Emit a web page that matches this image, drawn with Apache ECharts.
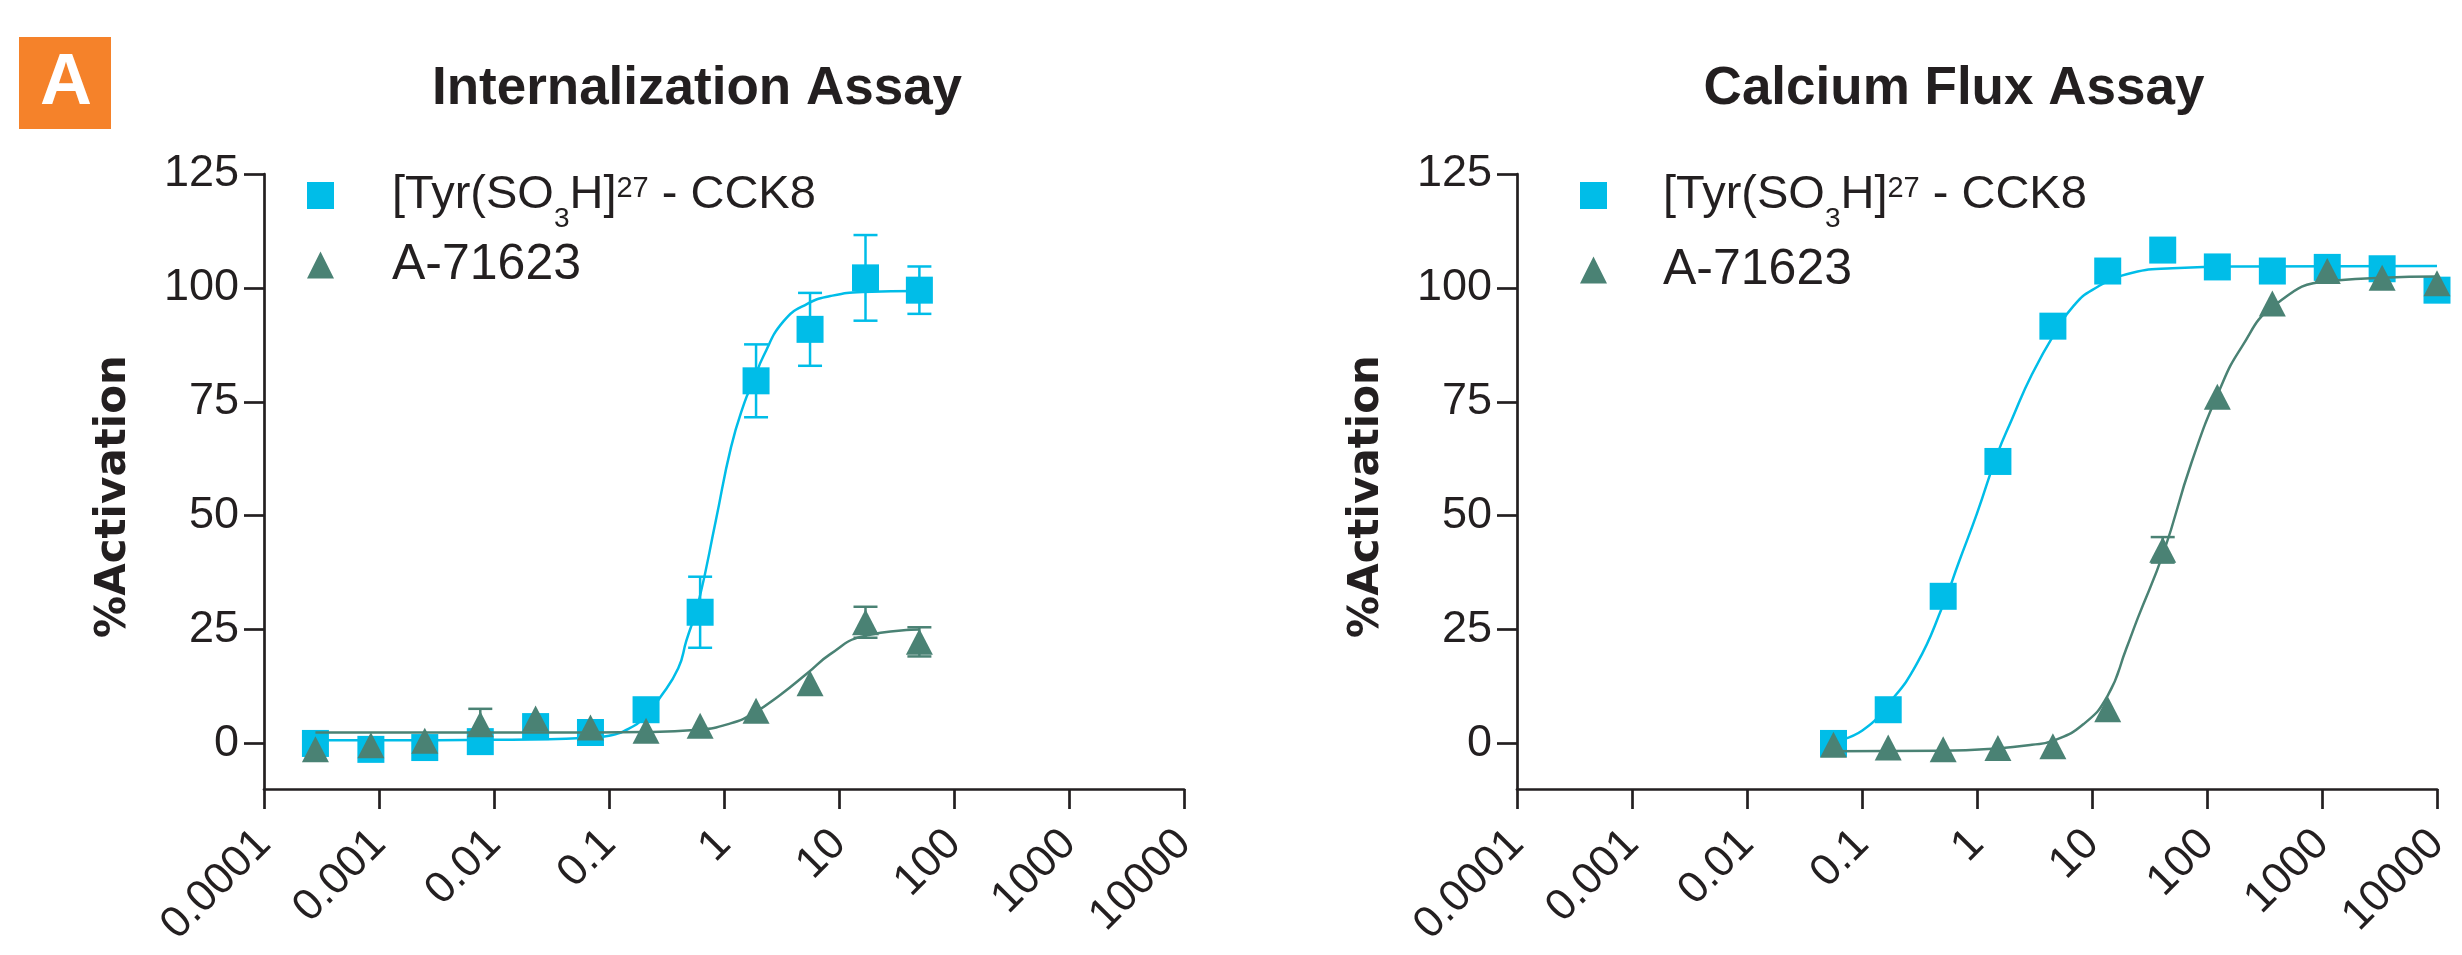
<!DOCTYPE html>
<html>
<head>
<meta charset="utf-8">
<title>Internalization / Calcium Flux</title>
<script src="https://cdn.jsdelivr.net/npm/echarts@6/dist/echarts.min.js"></script>
<style>
html,body{margin:0;padding:0;background:#fff;}
#chart{width:2462px;height:955px;}
</style>
</head>
<body>
<div id="chart"></div>
<script>
// ---- data ----
var cckName = '[Tyr(SO3H]27 - CCK8';
var aName = 'A-71623';

// internalization assay
var intDose = [0.00028, 0.00085, 0.0025, 0.0076, 0.023, 0.069, 0.21, 0.62, 1.9, 5.6, 17, 50];
var intCck = [0.0, -1.3, -0.9, 0.4, 3.7, 2.4, 7.4, 28.8, 79.6, 90.9, 102.2, 99.5];
var intCckSd = [0, 0, 0, 0, 0, 0, 0, 7.8, 8.0, 8.0, 9.4, 5.2];
var intA = [-1.3, -0.4, 0.6, 4.2, 5.5, 3.5, 2.8, 3.9, 7.2, 13.2, 26.6, 22.3];
var intASd = [0, 0, 0, 3.4, 0, 0, 0, 0, 0, 0, 3.4, 3.2];
var intCckFit = [[0.00028, 0.7], [0.001, 0.7], [0.01, 0.8], [0.03, 0.9], [0.07, 1.3], [0.1, 1.7],
    [0.15, 3.3], [0.2, 5.6], [0.28, 10.2], [0.4, 16.5], [0.47, 22.5], [0.6, 31], [0.85, 49],
    [1.15, 65], [1.5, 74.7], [1.8, 79.5], [2.2, 85], [3.3, 92.7], [5.3, 96.5], [8.4, 98.2],
    [16, 99.1], [50, 99.3]];
var intAFit = [[0.00028, 2.4], [0.03, 2.4], [0.2, 2.5], [0.6, 3.0], [1.14, 4.4], [1.8, 6.6],
    [3.1, 10.7], [5.3, 15.4], [8.4, 19.6], [16, 23.5], [50, 25.0]];

// calcium flux assay
var caDose = [0.0565, 0.169, 0.508, 1.52, 4.57, 13.7, 41.2, 123, 370, 1111, 3333, 10000];
var caCck = [0.0, 7.4, 32.3, 61.9, 91.6, 103.7, 108.3, 104.6, 103.7, 104.5, 104.2, 99.5];
var caCckSd = [0, 0, 0, 0, 0, 0, 0, 0, 0, 0, 0, 0];
var caA = [-0.3, -0.9, -1.3, -1.0, -0.6, 7.5, 42.5, 76.1, 96.6, 103.7, 102.2, 101.0];
var caASd = [0, 0, 0, 0, 0, 0, 2.8, 0, 0, 0, 0, 0];
var caCckFit = [[0.0565, 0.4], [0.1, 2.8], [0.17, 8.7], [0.3, 17.5], [0.5, 30], [0.7, 40],
    [1, 50.5], [1.5, 63.5], [2, 71], [3, 81], [5, 91], [7, 96.2], [10, 99.5], [20, 103],
    [50, 104.3], [200, 104.7], [10000, 104.8]];
var caAFit = [[0.0565, -1.7], [0.5, -1.6], [1.5, -1.1], [3, -0.3], [4.6, 0.6], [8.4, 4.2],
    [13.7, 10.5], [20, 21], [25, 27.5], [42, 42], [73, 61.5], [127, 77.3], [200, 87],
    [380, 96], [1150, 101.5], [10000, 102.5]];

var xTickValues = [0.0001, 0.001, 0.01, 0.1, 1, 10, 100, 1000, 10000];
var xTickLabels = ['0.0001', '0.001', '0.01', '0.1', '1', '10', '100', '1000', '10000'];
var yTickValues = [0, 25, 50, 75, 100, 125];

// ---- styling ----
var ink = '#231F20';
var blue = '#00BDE8';
var green = '#4A8274';
var font = 'Liberation Sans';

function xLabel(v) {
    for (var i = 0; i < xTickValues.length; i++) {
        if (Math.abs(Math.log10(v) - Math.log10(xTickValues[i])) < 0.01) return xTickLabels[i];
    }
    return '';
}

function legendText(name) {
    if (name === cckName) return '{gap|}{m|[Tyr(SO}{sub|3}{m|H]}{sup|27}{m| - CCK8}';
    return '{gap|}{n|A-71623}';
}

function legend(name, icon, left, top, gap) {
    return {
        orient: 'vertical', left: left, top: top, padding: 0,
        itemWidth: 27, itemHeight: 27, selectedMode: false,
        data: [{name: name, icon: icon}],
        formatter: legendText,
        textStyle: {
            color: ink, fontFamily: font,
            rich: {
                gap: {width: gap},
                m: {fontSize: 47, lineHeight: 50, fontFamily: font, color: ink},
                n: {fontSize: 50, lineHeight: 50, fontFamily: font, color: ink},
                sup: {fontSize: 29, lineHeight: 30, padding: [0, 0, 13, 0], fontFamily: font, color: ink},
                sub: {fontSize: 28, lineHeight: 28, padding: [47, 0, 0, 0], fontFamily: font, color: ink}
            }
        }
    };
}

function xAxis(idx) {
    return {
        type: 'log', gridIndex: idx, logBase: 10, min: 0.0001, max: 10000,
        axisLine: {onZero: false, lineStyle: {color: ink, width: 2.7}},
        axisTick: {length: 20, lineStyle: {color: ink, width: 2.7}},
        axisLabel: {rotate: 45, margin: 48, fontSize: 44, fontFamily: font, color: ink, formatter: xLabel},
        splitLine: {show: false}
    };
}

function yAxis(idx) {
    return {
        type: 'value', gridIndex: idx, min: -10, max: 125,
        axisLine: {show: true, onZero: false, lineStyle: {color: ink, width: 2.7}},
        axisTick: {show: true, length: 20, customValues: yTickValues, lineStyle: {color: ink, width: 2.7}},
        axisLabel: {customValues: yTickValues, margin: 25, fontSize: 45, fontFamily: font, color: ink},
        splitLine: {show: false},
        name: '%Activation', nameLocation: 'middle', nameRotate: 90, nameGap: 129,
        nameTextStyle: {fontFamily: 'DejaVu Sans', fontWeight: 'bold', fontSize: 42, color: ink, padding: [0, 30, 0, 0]}
    };
}

function errorBars(idx, dose, vals, sd, color) {
    var rows = [];
    dose.forEach(function (d, i) { if (sd[i] > 0) rows.push([d, vals[i], sd[i]]); });
    return {
        type: 'custom', xAxisIndex: idx, yAxisIndex: idx, silent: true, z: 2,
        data: rows,
        encode: {x: 0, y: 1},
        renderItem: function (params, api) {
            var x = api.value(0), y = api.value(1), e = api.value(2);
            var top = api.coord([x, y + e]);
            var bot = api.coord([x, y - e]);
            var w = 12;
            var st = {stroke: color, lineWidth: 2.5};
            return {
                type: 'group',
                children: [
                    {type: 'line', shape: {x1: top[0], y1: top[1], x2: bot[0], y2: bot[1]}, style: st},
                    {type: 'line', shape: {x1: top[0] - w, y1: top[1], x2: top[0] + w, y2: top[1]}, style: st},
                    {type: 'line', shape: {x1: bot[0] - w, y1: bot[1], x2: bot[0] + w, y2: bot[1]}, style: st}
                ]
            };
        }
    };
}

function fit(idx, pts, color, z) {
    return {
        type: 'line', xAxisIndex: idx, yAxisIndex: idx, data: pts,
        smooth: 0.5, symbol: 'none', silent: true, z: z,
        lineStyle: {color: color, width: 2.5}
    };
}

function points(idx, name, dose, vals, symbol, size, color, z) {
    return {
        type: 'scatter', name: name, xAxisIndex: idx, yAxisIndex: idx,
        data: dose.map(function (d, i) { return [d, vals[i]]; }),
        symbol: symbol, symbolSize: size, z: z,
        itemStyle: {color: color, opacity: 1}
    };
}

var chart = echarts.init(document.getElementById('chart'), null, {renderer: 'canvas'});
chart.setOption({
    animation: false,
    backgroundColor: '#fff',
    title: [
        {text: 'Internalization Assay', left: 697, top: 63, textAlign: 'center', padding: 0,
            textStyle: {fontFamily: font, fontWeight: 'bold', fontSize: 53, color: ink}},
        {text: 'Calcium Flux Assay', left: 1954, top: 63, textAlign: 'center', padding: 0,
            textStyle: {fontFamily: font, fontWeight: 'bold', fontSize: 53, color: ink}}
    ],
    graphic: [
        {type: 'rect', shape: {x: 19, y: 37, width: 92, height: 92}, style: {fill: '#F5822A'}},
        {type: 'text', x: 66, y: 84, style: {text: 'A', fill: '#fff', font: 'bold 72px "Liberation Sans"', align: 'center', verticalAlign: 'middle'}}
    ],
    legend: [
        legend(cckName, 'rect', 307, 158, 53),
        legend(aName, 'triangle', 307, 240, 53),
        legend(cckName, 'rect', 1580, 158, 51),
        legend(aName, 'triangle', 1580, 245, 51)
    ],
    grid: [
        {left: 264, top: 174, width: 920, height: 615, outerBoundsMode: 'none'},
        {left: 1517, top: 174, width: 920, height: 615, outerBoundsMode: 'none'}
    ],
    xAxis: [xAxis(0), xAxis(1)],
    yAxis: [yAxis(0), yAxis(1)],
    series: [
        errorBars(0, intDose, intCck, intCckSd, blue),
        fit(0, intCckFit, blue, 3),
        points(0, cckName, intDose, intCck, 'rect', 27, blue, 4),
        errorBars(0, intDose, intA, intASd, green),
        fit(0, intAFit, green, 5),
        points(0, aName, intDose, intA, 'triangle', [27, 26], green, 6),

        errorBars(1, caDose, caCck, caCckSd, blue),
        fit(1, caCckFit, blue, 3),
        points(1, cckName, caDose, caCck, 'rect', 27, blue, 4),
        errorBars(1, caDose, caA, caASd, green),
        fit(1, caAFit, green, 5),
        points(1, aName, caDose, caA, 'triangle', [27, 26], green, 6)
    ]
});
</script>
</body>
</html>
